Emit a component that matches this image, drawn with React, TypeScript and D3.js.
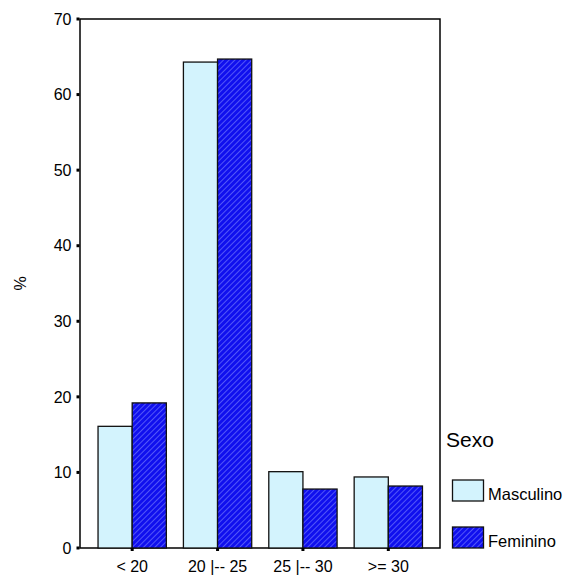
import { useEffect, useRef } from 'react'
import * as d3 from 'd3'

const categories = ['< 20', '20 |-- 25', '25 |-- 30', '>= 30']
const series = ['Masculino', 'Feminino']
const masculino = [16.1, 64.3, 10.1, 9.4]
const feminino = [19.2, 64.7, 7.8, 8.2]
const yTicks = [0, 10, 20, 30, 40, 50, 60, 70]

const FONT = 'Arial, "Liberation Sans", sans-serif'

const App = () => {
    const ref = useRef<SVGSVGElement>(null)

    useEffect(() => {
        const svg = d3.select(ref.current)
        svg.selectAll('*').remove()

        const left = 80
        const right = 440
        const top = 19
        const bottom = 548

        const y = d3.scaleLinear().domain([0, 70]).range([bottom, top])
        const x = d3
            .scaleBand()
            .domain(categories)
            .range([89.5, 431])
            .paddingInner(0.2)
            .paddingOuter(0.1)
        const xs = d3.scaleBand().domain(series).range([0, x.bandwidth()])

        // hatch pattern for Feminino
        const defs = svg.append('defs')
        const pat = defs
            .append('pattern')
            .attr('id', 'hatch')
            .attr('patternUnits', 'userSpaceOnUse')
            .attr('width', 4)
            .attr('height', 4)
            .attr('patternTransform', 'rotate(45)')
        pat.append('rect').attr('width', 4).attr('height', 4).attr('fill', '#1010ee')
        pat.append('line')
            .attr('x1', 0)
            .attr('y1', 0)
            .attr('x2', 0)
            .attr('y2', 4)
            .attr('stroke', '#7f86ff')
            .attr('stroke-width', 1.2)

        const fills = ['#d3f3fd', 'url(#hatch)']
        const values = [masculino, feminino]

        // frame
        svg.append('rect')
            .attr('x', left)
            .attr('y', top)
            .attr('width', right - left)
            .attr('height', bottom - top)
            .attr('fill', 'none')
            .attr('stroke', '#000')
            .attr('stroke-width', 1.5)

        // bars
        series.forEach((s, si) => {
            svg.append('g')
                .selectAll('rect')
                .data(categories)
                .join('rect')
                .attr('x', (c) => x(c)! + xs(s)!)
                .attr('y', (c, i) => y(values[si][i]))
                .attr('width', xs.bandwidth())
                .attr('height', (c, i) => bottom - y(values[si][i]))
                .attr('fill', fills[si])
                .attr('stroke', '#111')
                .attr('stroke-width', 1.3)
        })

        // y axis
        const ya = svg.append('g')
        ya.selectAll('rect')
            .data(yTicks)
            .join('rect')
            .attr('x', left - 3.5)
            .attr('y', (d) => y(d) - 1.5)
            .attr('width', 3)
            .attr('height', 3)
            .attr('fill', '#000')
        ya.selectAll('text')
            .data(yTicks)
            .join('text')
            .attr('x', left - 8.5)
            .attr('y', (d) => y(d))
            .attr('dy', '0.36em')
            .attr('text-anchor', 'end')
            .attr('font-family', FONT)
            .attr('font-size', 16)
            .text((d) => d)

        // x axis
        const xa = svg.append('g')
        xa.selectAll('rect')
            .data(categories)
            .join('rect')
            .attr('x', (c) => x(c)! + x.bandwidth() / 2 - 1.5)
            .attr('y', bottom)
            .attr('width', 3)
            .attr('height', 3)
            .attr('fill', '#000')
        xa.selectAll('text')
            .data(categories)
            .join('text')
            .attr('x', (c) => x(c)! + x.bandwidth() / 2)
            .attr('y', bottom + 24)
            .attr('text-anchor', 'middle')
            .attr('font-family', FONT)
            .attr('font-size', 16)
            .text((d) => d)

        svg.append('text')
            .attr('transform', `translate(26,${(top + bottom) / 2}) rotate(-90)`)
            .attr('text-anchor', 'middle')
            .attr('font-family', FONT)
            .attr('font-size', 16)
            .text('%')

        // legend
        const lg = svg.append('g')
        lg.append('text')
            .attr('x', 446)
            .attr('y', 447)
            .attr('font-family', FONT)
            .attr('font-size', 21)
            .text('Sexo')
        series.forEach((s, i) => {
            const yy = 480 + i * 47
            lg.append('rect')
                .attr('x', 452.5)
                .attr('y', yy)
                .attr('width', 31)
                .attr('height', 21)
                .attr('fill', fills[i])
                .attr('stroke', '#111')
                .attr('stroke-width', 1.3)
            lg.append('text')
                .attr('x', 488)
                .attr('y', yy + 20)
                .attr('font-family', FONT)
                .attr('font-size', 16.5)
                .text(s)
        })
    }, [])

    return (
        <svg
            ref={ref}
            width={566}
            height={576}
            style={{ position: 'absolute', left: 0, top: 0, background: '#fff' }}
        />
    )
}

export default App
